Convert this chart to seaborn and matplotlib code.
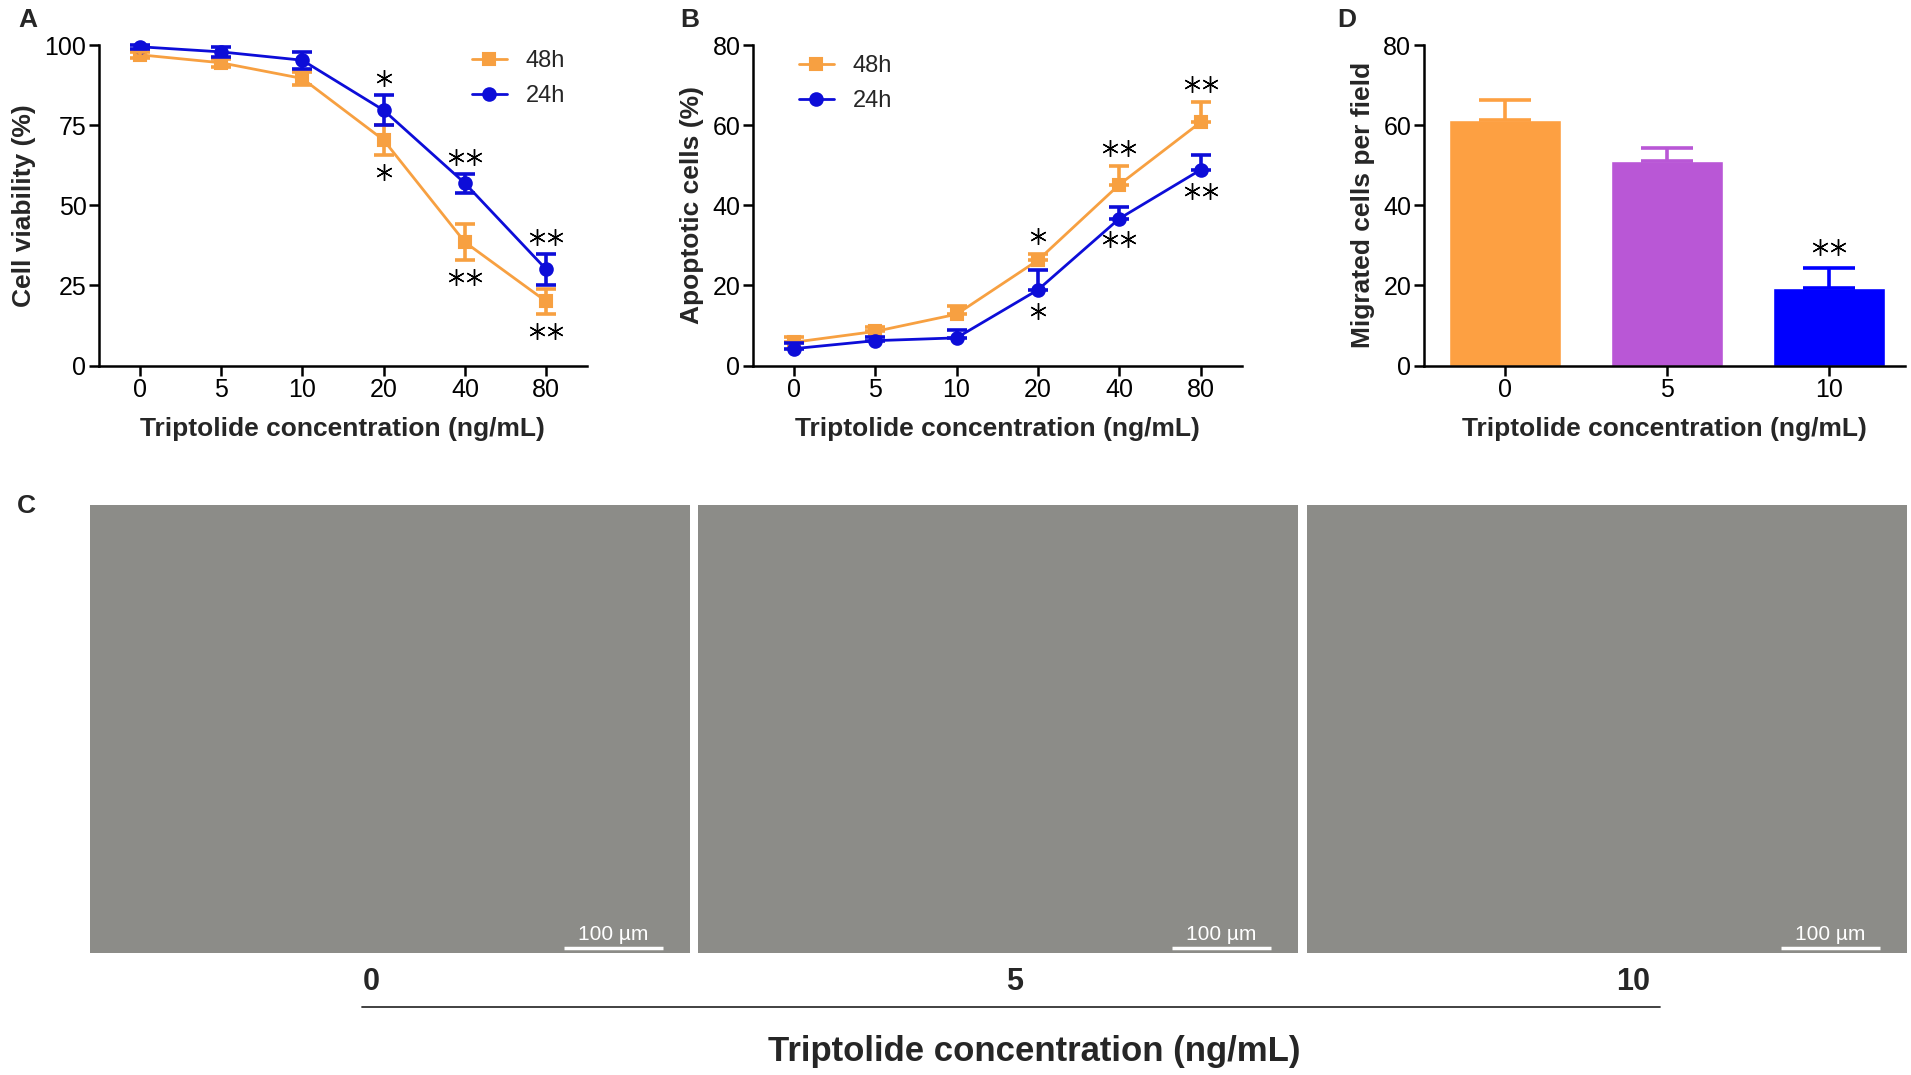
import numpy as np
import pandas as pd
import matplotlib
matplotlib.use("Agg")
import matplotlib.pyplot as plt
import matplotlib.transforms as mtransforms
import seaborn as sns

# ---------------- data ----------------
conc_labels = ["0", "5", "10", "20", "40", "80"]
time_labels = ["48h", "24h"]

via_48 = [97.0, 94.5, 89.6, 70.4, 38.5, 20.0]
via_48_err = [1.0, 1.2, 2.0, 4.8, 5.6, 3.9]
via_24 = [99.5, 97.9, 95.3, 79.7, 56.9, 30.0]
via_24_err = [0.6, 1.5, 2.6, 4.7, 2.9, 4.8]
via_48_sig = ["", "", "", "*", "**", "**"]   # below 48h
via_24_sig = ["", "", "", "*", "**", "**"]   # above 24h

apo_48 = [5.8, 8.5, 12.8, 26.3, 45.2, 60.8]
apo_48_err = [1.2, 1.0, 2.0, 1.5, 4.7, 5.0]
apo_24 = [4.2, 6.2, 6.9, 18.9, 36.7, 48.9]
apo_24_err = [1.4, 0.8, 2.0, 5.0, 2.9, 3.7]
apo_48_sig = ["", "", "", "*", "**", "**"]   # above 48h
apo_24_sig = ["", "", "", "*", "**", "**"]   # below 24h

mig_labels = ["0", "5", "10"]
mig_vals = [61.3, 51.0, 19.3]
mig_err = [4.9, 3.4, 5.0]
mig_sig = ["", "", "**"]

image_labels = ["0", "5", "10"]

# ---------------- style ----------------
sns.set_theme(style="ticks")
plt.rcParams["font.family"] = ["Liberation Sans", "DejaVu Sans"]

ORANGE = "#F7A041"
BLUE = "#0D0DD8"
BAR_COLORS = ["#FDA042", "#B957D6", "#0000FF"]
LW = 1.8

fig = plt.figure(figsize=(19.11, 10.75), dpi=100)

top_b, top_h = 0.660, 0.298
axA = fig.add_axes([0.0518, top_b, 0.2553, top_h])
axB = fig.add_axes([0.3940, top_b, 0.2557, top_h])
axD = fig.add_axes([0.7450, top_b, 0.2520, top_h])


def style_axis(ax):
    sns.despine(ax=ax)
    for s in ["left", "bottom"]:
        ax.spines[s].set_linewidth(LW)
        ax.spines[s].set_color("black")
    ax.tick_params(direction="out", length=7, width=LW, labelsize=18,
                   colors="black", pad=2)
    ax.set_xlabel("Triptolide concentration (ng/mL)", fontsize=19,
                  fontweight="bold", labelpad=11)


def stars(ax, xs, ys, sigs, dy, dx_pair=6.5, ms=12):
    for x, y, s in zip(xs, ys, sigs):
        n = len(s)
        if n == 0:
            continue
        offs = [0.0] if n == 1 else [-dx_pair, dx_pair]
        for ox in offs:
            tr = mtransforms.offset_copy(ax.transData, fig=fig, x=ox, y=dy,
                                         units="points")
            ax.plot([x], [y], marker=(6, 2, 0), ms=ms, mew=1.0, color="black",
                    transform=tr, clip_on=False, linestyle="none")


def line_panel(ax, v48, e48, v24, e24, ylabel, ylim, yticks, both_sides):
    df = pd.DataFrame({
        "conc": conc_labels * 2,
        "val": list(v48) + list(v24),
        "time": ["48h"] * 6 + ["24h"] * 6,
    })
    sns.pointplot(data=df, x="conc", y="val", hue="time", hue_order=time_labels,
                  order=conc_labels, palette=[ORANGE, BLUE], markers=["s", "o"],
                  linestyles=["-", "-"], errorbar=None, ax=ax,
                  markersize=9, linewidth=2.0)
    xs = np.arange(len(conc_labels))
    for vals, errs, col in [(v48, e48, ORANGE), (v24, e24, BLUE)]:
        yerr = [errs, errs] if both_sides else [np.zeros(len(errs)), errs]
        ax.errorbar(xs, vals, yerr=yerr, fmt="none", ecolor=col,
                    elinewidth=2.6, capsize=7.5, capthick=2.6, clip_on=False,
                    zorder=3)
    for art in ax.lines + ax.collections:
        art.set_clip_on(False)
    ax.set_xlim(-0.5, 5.5)
    ax.set_ylim(*ylim)
    ax.set_yticks(yticks)
    ax.set_ylabel(ylabel, fontsize=19, fontweight="bold", labelpad=6)
    style_axis(ax)


# ---- Panel A ----
line_panel(axA, via_48, via_48_err, via_24, via_24_err, "Cell viability (%)",
           (0, 100), [0, 25, 50, 75, 100], True)
xs6 = np.arange(6)
stars(axA, xs6, np.array(via_24) + np.array(via_24_err), via_24_sig, 12)
stars(axA, xs6, np.array(via_48) - np.array(via_48_err), via_48_sig, -12)
legA = axA.legend(frameon=False, fontsize=17, loc="upper left",
                  bbox_to_anchor=(0.72, 1.05), handlelength=1.5,
                  labelspacing=0.55, handletextpad=0.8)

# ---- Panel B ----
line_panel(axB, apo_48, apo_48_err, apo_24, apo_24_err, "Apoptotic cells (%)",
           (0, 80), [0, 20, 40, 60, 80], False)
stars(axB, xs6, np.array(apo_48) + np.array(apo_48_err), apo_48_sig, 13)
stars(axB, xs6, np.array(apo_24), apo_24_sig, -15)
legB = axB.legend(frameon=False, fontsize=17, loc="upper left",
                  bbox_to_anchor=(0.05, 1.035), handlelength=1.5,
                  labelspacing=0.55, handletextpad=0.8)

# ---- Panel D ----
dfD = pd.DataFrame({"conc": mig_labels, "val": mig_vals})
sns.barplot(data=dfD, x="conc", y="val", hue="conc", palette=BAR_COLORS,
            order=mig_labels, width=0.69, errorbar=None, legend=False, ax=axD,
            saturation=1.0)
xs3 = np.arange(3)
for i in range(3):
    axD.errorbar([xs3[i]], [mig_vals[i]], yerr=[[0], [mig_err[i]]], fmt="none",
                 ecolor=BAR_COLORS[i], elinewidth=2.6, capsize=19, capthick=2.6,
                 zorder=3)
stars(axD, xs3, np.array(mig_vals) + np.array(mig_err), mig_sig, 15)
axD.set_xlim(-0.5, 2.47)
axD.set_ylim(0, 80)
axD.set_yticks([0, 20, 40, 60, 80])
axD.set_ylabel("Migrated cells per field", fontsize=19, fontweight="bold",
               labelpad=6)
style_axis(axD)

# ---- Panel C (micrograph placeholders) ----
img_w, img_h, img_b = 0.314, 0.4167, 0.1135
for left in [0.0471, 0.3653, 0.6839]:
    axi = fig.add_axes([left, img_b, img_w, img_h])
    axi.set_facecolor("#8C8C88")
    axi.set_xticks([])
    axi.set_yticks([])
    for s in axi.spines.values():
        s.set_visible(False)
    axi.plot([0.79, 0.955], [0.012, 0.012], color="white", lw=2.5,
             transform=axi.transAxes, solid_capstyle="butt")
    axi.text(0.8725, 0.02, "100 µm", color="white", fontsize=15,
             ha="center", va="bottom", transform=axi.transAxes)

for lab, xf in zip(image_labels, [0.1945, 0.531, 0.8547]):
    fig.text(xf, 0.0865, lab, fontsize=22, fontweight="bold", ha="center",
             va="center")
fig.add_artist(plt.Line2D([0.1894, 0.8687], [0.0633, 0.0633], color="#333333",
                          lw=1.3, transform=fig.transFigure))
fig.text(0.541, 0.0223, "Triptolide concentration (ng/mL)", fontsize=25,
         fontweight="bold", ha="center", va="center")

# ---- panel letters ----
for lab, xf, yf in [("A", 0.0095, 0.981), ("B", 0.356, 0.981),
                    ("D", 0.700, 0.981), ("C", 0.009, 0.529)]:
    fig.text(xf, yf, lab, fontsize=19, fontweight="bold", ha="left",
             va="center")

fig.savefig("out.png", dpi=100)
